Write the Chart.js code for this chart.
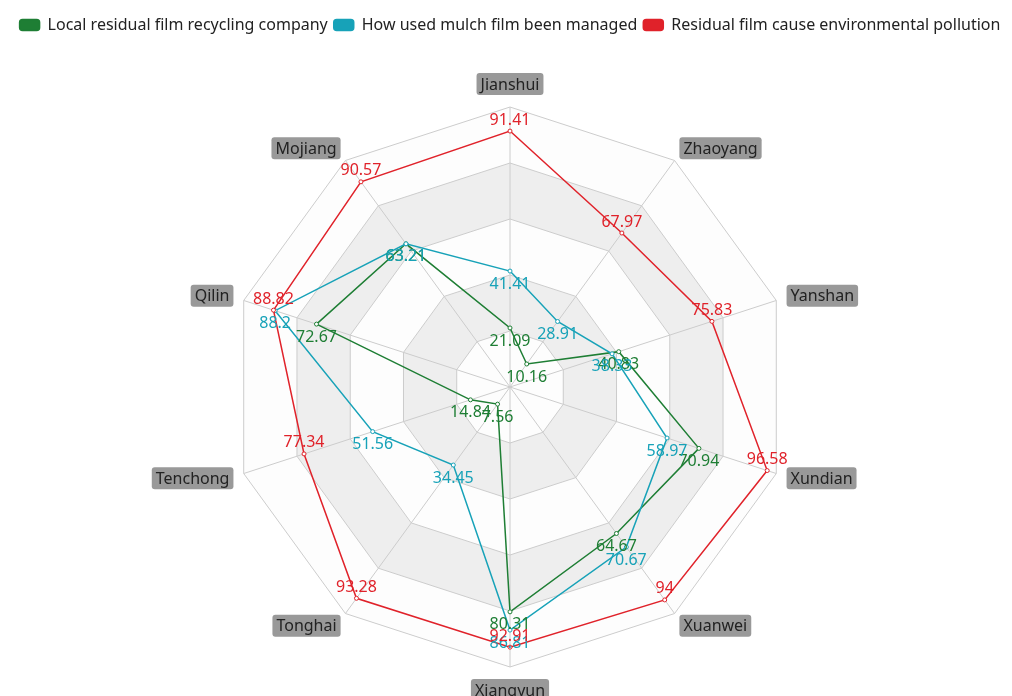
<!DOCTYPE html>
<html>
<head>
<meta charset="utf-8">
<script src="https://cdn.jsdelivr.net/npm/chart.js@4.4.0/dist/chart.umd.min.js"></script>
<style>
  html, body { margin: 0; padding: 0; background: #fff; }
  #wrap { width: 1012px; height: 696px; }
</style>
</head>
<body>
<div id="wrap"><canvas id="radarChart"></canvas></div>
<script>
// categories (clockwise from top)
const counties = ['Jianshui', 'Zhaoyang', 'Yanshan', 'Xundian', 'Xuanwei', 'Xiangyun', 'Tonghai', 'Tenchong', 'Qilin', 'Mojiang'];

// series values
const recyclingCompany = [21.09, 10.16, 40.83, 70.94, 64.67, 80.31, 7.56, 14.84, 72.67, 63.21];
const mulchManaged = [41.41, 28.91, 38.33, 58.97, 70.67, 86.81, 34.45, 51.56, 88.2, 63.21];
const filmPollution = [91.41, 67.97, 75.83, 96.58, 94, 92.91, 93.28, 77.34, 88.82, 90.57];

const seriesNames = ['Local residual film recycling company', 'How used mulch film been managed', 'Residual film cause environmental pollution'];
const seriesColors = ['#1e7e34', '#17a2b8', '#e0222a'];

const FONT = '"Noto Sans", "DejaVu Sans", sans-serif';

// extra room under the legend
const legendGapPlugin = {
  id: 'legendGap',
  beforeInit: (chart) => {
    const origFit = chart.legend.fit;
    chart.legend.fit = function () {
      origFit.bind(chart.legend)();
      this.height += 64;
    };
  }
};

// alternating ring backgrounds, like the split areas
const splitAreaPlugin = {
  id: 'splitArea',
  beforeDraw: (chart) => {
    const scale = chart.scales.r;
    const ctx = chart.ctx;
    const n = counties.length;
    const steps = [0, 20, 40, 60, 80, 100];
    const colors = ['rgba(250,250,250,0.3)', 'rgba(200,200,200,0.3)'];
    ctx.save();
    for (let s = 1; s < steps.length; s++) {
      ctx.beginPath();
      const outer = scale.getDistanceFromCenterForValue(steps[s]);
      const inner = scale.getDistanceFromCenterForValue(steps[s - 1]);
      for (let i = 0; i < n; i++) {
        const p = scale.getPointPosition(i, outer);
        if (i === 0) ctx.moveTo(p.x, p.y); else ctx.lineTo(p.x, p.y);
      }
      ctx.closePath();
      if (inner > 0) {
        for (let i = 0; i < n; i++) {
          const p = scale.getPointPosition(i, inner);
          if (i === 0) ctx.moveTo(p.x, p.y); else ctx.lineTo(p.x, p.y);
        }
        ctx.closePath();
      }
      ctx.fillStyle = colors[(s - 1) % 2];
      ctx.fill('evenodd');
    }
    ctx.restore();
  }
};

// axis names in grey rounded boxes
const axisNamePlugin = {
  id: 'axisNames',
  afterDraw: (chart) => {
    const scale = chart.scales.r;
    const ctx = chart.ctx;
    const n = counties.length;
    const gap = 15;
    ctx.save();
    ctx.font = '16px ' + FONT;
    for (let i = 0; i < n; i++) {
      const p = scale.getPointPosition(i, scale.drawingArea + gap);
      const angle = i * 2 * Math.PI / n;
      const sx = Math.sin(angle), cy = Math.cos(angle);
      const w = ctx.measureText(counties[i]).width;
      const h = 16;
      let left;
      if (sx > 0.01) left = p.x;
      else if (sx < -0.01) left = p.x - w;
      else left = p.x - w / 2;
      let top;
      if (cy > 0.99) top = p.y - h;
      else if (cy < -0.99) top = p.y;
      else top = p.y - h / 2;
      const padX = 4, padY = 3;
      ctx.fillStyle = '#999';
      ctx.beginPath();
      ctx.roundRect(left - padX, top - padY, w + padX * 2, h + padY * 2, 3);
      ctx.fill();
      ctx.fillStyle = '#222';
      ctx.textAlign = 'left';
      ctx.textBaseline = 'middle';
      ctx.fillText(counties[i], left, top + h / 2 + 1);
    }
    ctx.restore();
  }
};

// value labels next to each point
const valueLabelPlugin = {
  id: 'valueLabels',
  afterDatasetsDraw: (chart) => {
    const ctx = chart.ctx;
    ctx.save();
    ctx.font = '16px ' + FONT;
    ctx.textAlign = 'center';
    ctx.textBaseline = 'middle';
    chart.data.datasets.forEach((ds, di) => {
      const meta = chart.getDatasetMeta(di);
      const above = di === 2;
      ctx.fillStyle = seriesColors[di];
      meta.data.forEach((pt, i) => {
        ctx.fillText(String(ds.data[i]), pt.x, above ? pt.y - 11 : pt.y + 13);
      });
    });
    ctx.restore();
  }
};

function makeSet(idx, data, order) {
  return {
    label: seriesNames[idx],
    data: data,
    borderColor: seriesColors[idx],
    backgroundColor: seriesColors[idx],
    borderWidth: 1.5,
    fill: false,
    tension: 0,
    pointRadius: 2,
    pointBorderWidth: 1,
    pointBackgroundColor: '#fff',
    pointBorderColor: seriesColors[idx],
    order: order
  };
}

const config = {
  type: 'radar',
  data: {
    labels: counties,
    datasets: [
      makeSet(0, recyclingCompany, 3),
      makeSet(1, mulchManaged, 2),
      makeSet(2, filmPollution, 1)
    ]
  },
  options: {
    responsive: true,
    maintainAspectRatio: false,
    animation: false,
    layout: {
      padding: { top: 11, bottom: 28, left: 8, right: 0 }
    },
    scales: {
      r: {
        min: 0,
        max: 100,
        ticks: { display: false, stepSize: 20 },
        grid: { color: '#ccc', lineWidth: 1 },
        angleLines: { color: '#ccc', lineWidth: 1 },
        pointLabels: { display: false }
      }
    },
    plugins: {
      legend: {
        position: 'top',
        labels: {
          boxWidth: 20,
          boxHeight: 11,
          useBorderRadius: true,
          borderRadius: 3,
          padding: 6,
          color: '#222',
          font: { family: FONT, size: 16 },
          sort: (a, b) => a.datasetIndex - b.datasetIndex
        }
      },
      tooltip: { enabled: false }
    }
  },
  plugins: [legendGapPlugin, splitAreaPlugin, axisNamePlugin, valueLabelPlugin]
};

const myChart = new Chart(document.getElementById('radarChart'), config);
</script>
</body>
</html>
